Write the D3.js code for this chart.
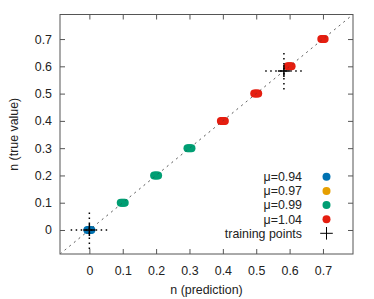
<!DOCTYPE html>
<html>
<head>
<meta charset="utf-8">
<script src="https://cdn.jsdelivr.net/npm/d3@7"></script>
<style>
  body { margin: 0; background: #fff; }
  svg { display: block; font-family: "Liberation Sans", Arial, sans-serif; }
  .tick text { font-size: 12.4px; fill: #222; }
  .lbl { font-size: 12.4px; fill: #222; }
</style>
</head>
<body>
<svg id="chart" width="374" height="299"></svg>
<script>
// series: predicted n vs true n for each mu
const seriesNames = ["μ=0.94", "μ=0.97", "μ=0.99", "μ=1.04"]
const seriesColors = ["#0072b2", "#e69f00", "#009e73", "#e51e10"]
const predOrange = [-0.002, 0.002]
const trueOrange = [0, 0]
const predBlue = [-0.006, -0.002, 0.002, 0.006]
const trueBlue = [0, 0, 0, 0]
const predGreen = [0.094, 0.098, 0.102, 0.106, 0.194, 0.198, 0.202, 0.206, 0.294, 0.298, 0.302, 0.306]
const trueGreen = [0.1, 0.1, 0.1, 0.1, 0.2, 0.2, 0.2, 0.2, 0.3, 0.3, 0.3, 0.3]
const predRed = [0.394, 0.398, 0.402, 0.406, 0.494, 0.498, 0.502, 0.506, 0.594, 0.598, 0.602, 0.606, 0.695, 0.699, 0.702, 0.705]
const trueRed = [0.4, 0.4, 0.4, 0.4, 0.5, 0.5, 0.5, 0.5, 0.6, 0.6, 0.6, 0.6, 0.7, 0.7, 0.7, 0.7]

// training points with error bars
const trainX = [0, 0.583]
const trainY = [0, 0.583]
const trainXErr = [0.056, 0.056]
const trainYErr = [0.07, 0.068]

const tickValues = [0, 0.1, 0.2, 0.3, 0.4, 0.5, 0.6, 0.7]
const domain = [-0.088, 0.79]

const svg = d3.select("#chart")
const L = 60, R = 353, T = 14.5, B = 254
const x = d3.scaleLinear().domain(domain).range([L, R])
const y = d3.scaleLinear().domain(domain).range([B, T])
const fmt = (d) => d === 0 ? "0" : d3.format(".1f")(d)

svg.append("defs").append("clipPath").attr("id", "clip")
  .append("rect").attr("x", L).attr("y", T).attr("width", R - L).attr("height", B - T)

// axes with inward ticks, mirrored
const axB = svg.append("g").attr("transform", `translate(0,${B})`)
  .call(d3.axisBottom(x).tickValues(tickValues).tickFormat(fmt).tickSizeInner(-5).tickSizeOuter(0).tickPadding(12))
const axT = svg.append("g").attr("transform", `translate(0,${T})`)
  .call(d3.axisTop(x).tickValues(tickValues).tickFormat("").tickSizeInner(-5).tickSizeOuter(0))
const axL = svg.append("g").attr("transform", `translate(${L},0)`)
  .call(d3.axisLeft(y).tickValues(tickValues).tickFormat(fmt).tickSizeInner(-5).tickSizeOuter(0).tickPadding(8))
const axR = svg.append("g").attr("transform", `translate(${R},0)`)
  .call(d3.axisRight(y).tickValues(tickValues).tickFormat("").tickSizeInner(-5).tickSizeOuter(0))
;[axB, axT, axL, axR].forEach((a) => {
  a.select(".domain").remove()
  a.selectAll(".tick line").attr("stroke", "#555")
})

svg.append("rect").attr("x", L).attr("y", T).attr("width", R - L).attr("height", B - T)
  .attr("fill", "none").attr("stroke", "#555").attr("stroke-width", 1)

const plot = svg.append("g").attr("clip-path", "url(#clip)")

// y = x reference
plot.append("line")
  .attr("x1", x(domain[0])).attr("y1", y(domain[0]))
  .attr("x2", x(domain[1])).attr("y2", y(domain[1]))
  .attr("stroke", "#888").attr("stroke-width", 1).attr("stroke-dasharray", "2,4")

// points
const groups = [
  { p: predOrange, t: trueOrange, c: seriesColors[1] },
  { p: predBlue, t: trueBlue, c: seriesColors[0] },
  { p: predGreen, t: trueGreen, c: seriesColors[2] },
  { p: predRed, t: trueRed, c: seriesColors[3] }
]
groups.forEach((g) => {
  plot.append("g").selectAll("circle")
    .data(g.p.map((p, i) => [p, g.t[i]]))
    .enter().append("circle")
    .attr("cx", (d) => x(d[0])).attr("cy", (d) => y(d[1]))
    .attr("r", 4).attr("fill", g.c)
})

// diagonal drawn over points lightly
plot.append("line")
  .attr("x1", x(domain[0])).attr("y1", y(domain[0]))
  .attr("x2", x(domain[1])).attr("y2", y(domain[1]))
  .attr("stroke", "#333").attr("stroke-opacity", 0.35).attr("stroke-width", 1).attr("stroke-dasharray", "2,4")

// training points
trainX.forEach((tx, i) => {
  const cx = x(tx), cy = y(trainY[i])
  const g = plot.append("g")
  g.append("line").attr("x1", x(tx - trainXErr[i])).attr("x2", x(tx + trainXErr[i]))
    .attr("y1", cy).attr("y2", cy)
    .attr("stroke", "#000").attr("stroke-width", 1.5).attr("stroke-dasharray", "1.5,3.5")
  g.append("line").attr("y1", y(trainY[i] - trainYErr[i])).attr("y2", y(trainY[i] + trainYErr[i]))
    .attr("x1", cx).attr("x2", cx)
    .attr("stroke", "#000").attr("stroke-width", 1.5).attr("stroke-dasharray", "1.5,3.5")
  g.append("path").attr("d", `M${cx - 6},${cy}H${cx + 6}M${cx},${cy - 6}V${cy + 6}`)
    .attr("stroke", "#000").attr("stroke-width", 1.5)
})

// axis titles
svg.append("text").attr("class", "lbl").attr("x", (L + R) / 2).attr("y", 294)
  .attr("text-anchor", "middle").text("n (prediction)")
svg.append("text").attr("class", "lbl")
  .attr("transform", `translate(17.5,${(T + B) / 2}) rotate(-90)`)
  .attr("text-anchor", "middle").text("n (true value)")

// legend
const legendY = [176.7, 191, 205, 219.3, 233.3]
seriesNames.forEach((s, i) => {
  svg.append("text").attr("class", "lbl").attr("x", 302).attr("y", legendY[i])
    .attr("dy", "0.35em").attr("text-anchor", "end").text(s)
  svg.append("circle").attr("cx", 326.5).attr("cy", legendY[i]).attr("r", 4).attr("fill", seriesColors[i])
})
svg.append("text").attr("class", "lbl").attr("x", 302).attr("y", legendY[4])
  .attr("dy", "0.35em").attr("text-anchor", "end").text("training points")
svg.append("path")
  .attr("d", `M${320.2},${legendY[4]}H${332.8}M${326.5},${legendY[4] - 6.3}V${legendY[4] + 6.3}`)
  .attr("stroke", "#000").attr("stroke-width", 1)
</script>
</body>
</html>
